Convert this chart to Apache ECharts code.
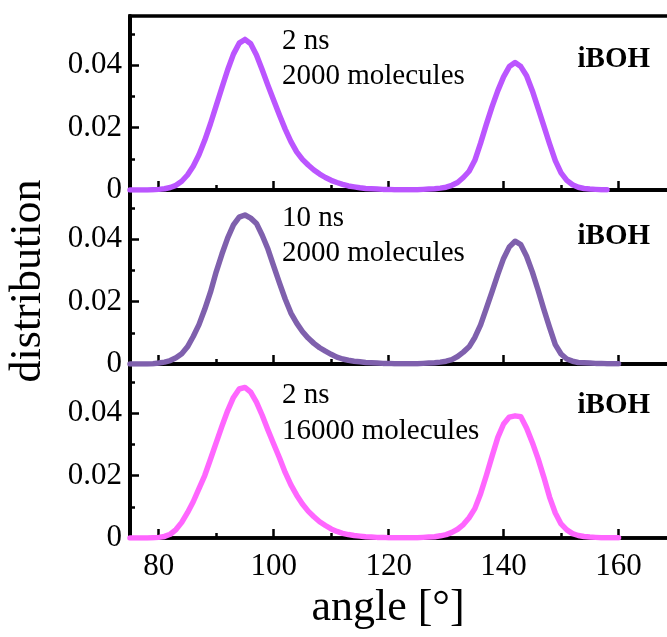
<!DOCTYPE html>
<html>
<head>
<meta charset="utf-8">
<script src="https://cdn.jsdelivr.net/npm/echarts@6/dist/echarts.min.js"></script>
<style>
  html, body { margin: 0; padding: 0; background: #fff; }
  #chart { width: 667px; height: 637px; }
</style>
</head>
<body>
<div id="chart"></div>
<script>
// O-O-H angle distributions for iBOH, three runs stacked
const angles = [
  75, 76, 77, 78, 79, 80, 81, 82, 83, 84, 85, 86, 87, 88, 89, 90, 91, 92, 93, 94,
  95, 96, 97, 98, 99, 100, 101, 102, 103, 104, 105, 106, 107, 108, 109, 110, 111, 112, 113, 114,
  115, 116, 117, 118, 119, 120, 121, 122, 123, 124, 125, 126, 127, 128, 129, 130, 131, 132, 133, 134,
  135, 136, 137, 138, 139, 140, 141, 142, 143, 144, 145, 146, 147, 148, 149, 150, 151, 152, 153, 154,
  155, 156, 157, 158, 159, 160
];

// 2 ns, 2000 molecules (75..158)
const run2ns2000 = [
  0, 0, 0, 0, 0.0001, 0.0002, 0.0004, 0.0008, 0.0015, 0.0028, 0.0048, 0.0076, 0.0113, 0.0159, 0.0212, 0.0270, 0.0328, 0.0385, 0.0435, 0.0470,
  0.0482, 0.0468, 0.0432, 0.0385, 0.0335, 0.0287, 0.0240, 0.0195, 0.0155, 0.0122, 0.0098, 0.0080, 0.0064, 0.0051, 0.0040, 0.0031, 0.0024, 0.0018, 0.0013, 0.0010,
  0.0007, 0.0005, 0.0004, 0.0003, 0.0002, 0.0002, 0.0001, 0.0001, 0.0001, 0.0001, 0.0001, 0.0002, 0.0003, 0.0004, 0.0006, 0.0009, 0.0015, 0.0024, 0.0040, 0.0060,
  0.0095, 0.0150, 0.0210, 0.0267, 0.0318, 0.0362, 0.0395, 0.0408, 0.0395, 0.0366, 0.0318, 0.0262, 0.0205, 0.0148, 0.0094, 0.0055, 0.0031, 0.0017, 0.0009, 0.0005,
  0.0003, 0.0002, 0.0001, 0.0001
];

// 10 ns, 2000 molecules (75..160)
const run10ns2000 = [
  0, 0, 0, 0, 0.0001, 0.0003, 0.0006, 0.0011, 0.0020, 0.0033, 0.0055, 0.0088, 0.0126, 0.0175, 0.0230, 0.0295, 0.0352, 0.0404, 0.0445, 0.0470,
  0.0477, 0.0467, 0.0450, 0.0412, 0.0368, 0.0313, 0.0260, 0.0208, 0.0163, 0.0131, 0.0104, 0.0083, 0.0066, 0.0052, 0.0041, 0.0031, 0.0022, 0.0016, 0.0012, 0.0009,
  0.0007, 0.0005, 0.0004, 0.0003, 0.0002, 0.0002, 0.0001, 0.0001, 0.0001, 0.0001, 0.0001, 0.0002, 0.0003, 0.0004, 0.0006, 0.0009, 0.0014, 0.0024, 0.0038, 0.0055,
  0.0085, 0.0125, 0.0178, 0.0232, 0.0287, 0.0338, 0.0375, 0.0393, 0.0382, 0.0345, 0.0295, 0.0237, 0.0175, 0.0117, 0.0062, 0.0032, 0.0016, 0.0009, 0.0005, 0.0004,
  0.0003, 0.0002, 0.0002, 0.0001, 0.0001, 0.0001
];

// 2 ns, 16000 molecules (75..160)
const run2ns16000 = [
  0, 0, 0, 0, 0.0001, 0.0002, 0.0005, 0.0012, 0.0027, 0.0050, 0.0081, 0.0116, 0.0158, 0.0200, 0.0252, 0.0305, 0.0358, 0.0408, 0.0450, 0.0477,
  0.0482, 0.0467, 0.0435, 0.0393, 0.0346, 0.0301, 0.0257, 0.0210, 0.0170, 0.0137, 0.0109, 0.0086, 0.0068, 0.0052, 0.0040, 0.0029, 0.0021, 0.0015, 0.0011, 0.0008,
  0.0006, 0.0004, 0.0003, 0.0002, 0.0002, 0.0001, 0.0001, 0.0001, 0.0001, 0.0001, 0.0001, 0.0002, 0.0003, 0.0004, 0.0007, 0.0011, 0.0018, 0.0028, 0.0043, 0.0065,
  0.0094, 0.0142, 0.0200, 0.0262, 0.0322, 0.0365, 0.0387, 0.0391, 0.0388, 0.0352, 0.0306, 0.0254, 0.0195, 0.0131, 0.0080, 0.0045, 0.0026, 0.0014, 0.0008, 0.0005,
  0.0003, 0.0002, 0.0001, 0.0001, 0.0001, 0.0001
];

const panelLabels = [
  ['2 ns', '2000 molecules'],
  ['10 ns', '2000 molecules'],
  ['2 ns', '16000 molecules']
];
const systemName = 'iBOH';
const xMajorTicks = [80, 100, 120, 140, 160];
const xMinorTicks = [90, 110, 130, 150, 170];
const yMajorTicks = [0, 0.02, 0.04];
const yMinorTicks = [0.01, 0.03, 0.05];
const xTitle = 'angle [°]';
const yTitle = 'distribution';

const runs = [run2ns2000, run10ns2000, run2ns16000];
const colors = ['#bb55ff', '#7f60ad', '#ff66ff'];

const SERIF = '"Liberation Serif", "DejaVu Serif", serif';
const X_MIN = 75, X_MAX = 170, Y_MAX = 0.0557;
const panelTops = [16, 190, 364];
const panelH = 174;
// plot spans past the right edge of the canvas, so the right frame stays hidden
const plotW = 546;

const grids = [], xAxes = [], yAxes = [], series = [], graphics = [];

panelTops.forEach((top, i) => {
  grids.push({
    left: 130, width: plotW, top: top, height: panelH,
    outerBoundsMode: 'none', containLabel: false,
    show: true, borderColor: '#000', borderWidth: 3.5, backgroundColor: 'transparent'
  });
  const isBottom = i === panelTops.length - 1;
  // major x ticks (with labels on the lowest panel)
  xAxes.push({
    type: 'value', gridIndex: i, min: X_MIN, max: X_MAX,
    axisLine: { show: true, onZero: false, lineStyle: { color: '#000', width: 3.5 } },
    axisTick: { show: true, inside: true, length: 9, customValues: xMajorTicks, lineStyle: { color: '#000', width: 2.5 } },
    axisLabel: {
      show: isBottom, customValues: xMajorTicks, margin: 13,
      color: '#000', fontFamily: SERIF, fontSize: 31
    },
    splitLine: { show: false }
  });
  // minor x ticks
  xAxes.push({
    type: 'value', gridIndex: i, min: X_MIN, max: X_MAX, position: 'bottom',
    axisLine: { show: false, onZero: false },
    axisTick: { show: true, inside: true, length: 5, customValues: xMinorTicks, lineStyle: { color: '#000', width: 2.5 } },
    axisLabel: { show: false },
    splitLine: { show: false }
  });
  // major y ticks with labels
  yAxes.push({
    type: 'value', gridIndex: i, min: 0, max: Y_MAX,
    axisLine: { show: true, onZero: false, lineStyle: { color: '#000', width: 4 } },
    axisTick: { show: true, inside: true, length: 9, customValues: yMajorTicks, lineStyle: { color: '#000', width: 2.5 } },
    axisLabel: {
      show: true, customValues: yMajorTicks, margin: 8,
      color: '#000', fontFamily: SERIF, fontSize: 31,
      formatter: v => (v === 0 ? '0' : v.toFixed(2))
    },
    splitLine: { show: false }
  });
  // minor y ticks
  yAxes.push({
    type: 'value', gridIndex: i, min: 0, max: Y_MAX, position: 'left',
    axisLine: { show: false, onZero: false },
    axisTick: { show: true, inside: true, length: 5, customValues: yMinorTicks, lineStyle: { color: '#000', width: 2.5 } },
    axisLabel: { show: false },
    splitLine: { show: false }
  });

  const values = runs[i];
  series.push({
    type: 'line', xAxisIndex: 2 * i, yAxisIndex: 2 * i,
    data: values.map((v, k) => [angles[k], v]),
    showSymbol: false, symbol: 'none', smooth: false,
    lineStyle: { color: colors[i], width: 5.5, cap: 'round', join: 'round' },
    z: 5
  });
});

// per-panel annotations
const noteY = [[41, 76], [218, 253], [395, 431]];
const tagY = [60, 237, 406];
panelLabels.forEach((lines, i) => {
  lines.forEach((txt, j) => {
    graphics.push({
      type: 'text', z: 10,
      style: {
        text: txt, x: 282, y: noteY[i][j],
        font: '29px ' + SERIF, fill: '#000',
        textAlign: 'left', textVerticalAlign: 'middle'
      }
    });
  });
  graphics.push({
    type: 'text', z: 10,
    style: {
      text: systemName, x: 650, y: tagY[i],
      font: 'bold 29px ' + SERIF, fill: '#000',
      textAlign: 'right', textVerticalAlign: 'middle'
    }
  });
});

// axis titles
graphics.push({
  type: 'text', z: 10,
  style: {
    text: xTitle, x: 388, y: 608,
    font: '44px ' + SERIF, fill: '#000',
    textAlign: 'center', textVerticalAlign: 'middle'
  }
});
graphics.push({
  type: 'text', z: 10, x: 28, y: 281, rotation: Math.PI / 2,
  style: {
    text: yTitle, x: 0, y: 0,
    font: '44px ' + SERIF, fill: '#000',
    textAlign: 'center', textVerticalAlign: 'middle'
  }
});

const chart = echarts.init(document.getElementById('chart'), null, { renderer: 'canvas' });
chart.setOption({
  animation: false,
  backgroundColor: '#fff',
  grid: grids,
  xAxis: xAxes,
  yAxis: yAxes,
  series: series,
  graphic: { elements: graphics }
});
</script>
</body>
</html>
